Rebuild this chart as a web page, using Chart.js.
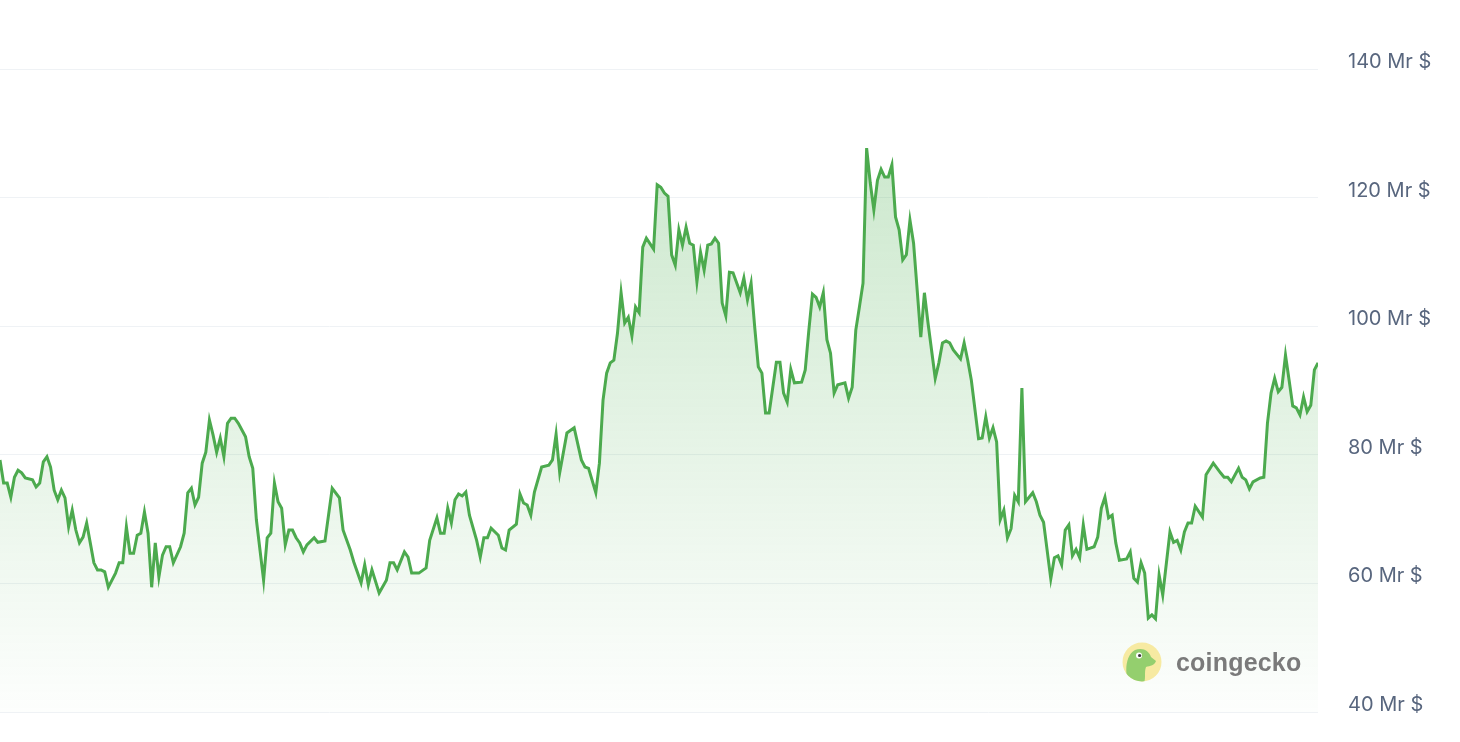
<!DOCTYPE html>
<html>
<head>
<meta charset="utf-8">
<script src="https://cdn.jsdelivr.net/npm/chart.js"></script>
<style>
  body { margin:0; background:#fff; }
  #wrap { position:relative; width:1460px; height:742px; }
  #mark { position:absolute; left:1122px; top:642px; display:flex; align-items:center; }
  #mark span { margin-left:14px; font-family:"Liberation Sans", Arial, sans-serif; font-weight:700; font-size:25px; color:#7a7a7a; letter-spacing:0.2px; }
</style>
</head>
<body>
<div id="wrap">
  <canvas id="volume_chart" width="1460" height="742"></canvas>
  <div id="mark">
    <svg width="40" height="40" viewBox="0 0 40 40">
      <defs><clipPath id="c"><circle cx="20" cy="20" r="19.5"/></clipPath></defs>
      <circle cx="20" cy="20" r="19.5" fill="#f7eaa2"/>
      <path clip-path="url(#c)" d="M5,36 C3,25 5,12 13,8 C21,5 27,9 29,15 L34,19 C33,23 28,24 24,25 C22,30 24,36 22,41 C15,42 8,40 5,36 Z" fill="#94cf6e"/>
      <circle cx="17" cy="13.5" r="3" fill="#fff"/>
      <circle cx="17.6" cy="13.5" r="1.6" fill="#3a3a3a"/>
    </svg>
    <span>coingecko</span>
  </div>
</div>
<script>
// volume chart, values in "Mr $"
let days = [0,1,2,3,4,5,6,7,9,10,11,12,13,14,15,16,17,18,19,20,21,22,23,24,25,26,27,28,29,30,
  32,33,34,35,36,37,38,39,40,41,42,43,44,45,46,47,48,50,51,52,53,54,55,56,57,58,59,60,61,62,
  63,64,65,66,68,69,70,71,72,73,74,75,76,77,78,79,80,81,82,83,84,85,87,88,90,92,94,95,97,98,
  100,101,102,103,105,107,108,109,110,112,113,114,116,118,119,121,122,123,124,125,126,127,128,129,130,
  132,133,134,135,136,138,139,140,141,143,144,145,146,147,148,150,152,153,154,155,157,159,161,162,163,
  165,166,167,168,169,170,171,172,173,174,175,176,177,178,179,181,182,183,184,185,186,187,188,189,190,
  191,192,193,194,195,196,197,198,199,200,201,202,203,205,206,207,208,209,210,211,212,213,215,216,217,
  218,219,220,222,223,224,225,226,227,228,229,230,231,232,234,235,236,237,238,239,240,241,242,243,244,
  245,246,247,248,249,250,251,252,253,255,256,257,259,260,261,262,263,264,266,267,268,269,271,272,273,
  274,275,276,277,278,279,280,281,282,283,284,286,287,288,289,291,292,293,294,295,296,297,298,299,300,
  301,303,304,305,306,307,308,309,310,312,313,314,315,316,317,318,319,320,321,322,324,325,326,327,328,
  329,330,331,333,334,336,338,339,340,341,343,344,345,346,347,349,350,351,352,353,354,355,356,357,358,
  359,360,361,362,363,364,365];

let volumes = [79.2,75.6,75.6,73.4,76.5,77.6,77.2,76.4,76.1,75.0,75.6,78.9,79.7,78.1,74.5,73.0,74.5,73.3,68.8,71.4,68.3,66.3,67.2,69.4,66.3,63.2,62.1,62.1,61.8,59.4,
  61.6,63.2,63.2,68.8,64.7,64.7,67.5,67.8,71.1,67.8,59.4,66.3,61.0,64.4,65.7,65.7,63.2,65.7,67.8,74.1,74.8,72.2,73.4,78.7,80.4,85.4,83.1,80.4,82.6,79.7,
  84.9,85.7,85.7,84.9,82.8,79.7,77.9,69.9,65.2,60.5,67.1,67.8,75.6,72.7,71.7,66.0,68.3,68.3,67.1,66.3,64.9,66.0,67.1,66.4,66.6,74.8,73.3,68.3,65.2,63.3,
  60.1,62.9,59.8,62.1,58.5,60.5,63.2,63.2,62.1,64.9,64.1,61.6,61.6,62.4,66.7,70.2,67.8,67.8,71.7,69.4,73.0,73.9,73.6,74.2,70.6,
  66.7,64.1,67.1,67.1,68.6,67.5,65.5,65.2,68.3,69.2,73.9,72.5,72.2,70.6,74.2,78.1,78.4,79.2,83.2,77.2,83.4,84.2,79.2,78.1,77.9,
  74.1,78.7,88.5,92.7,94.3,94.7,98.9,105.2,100.5,101.4,98.5,103.0,102.1,112.3,113.7,112.0,122.0,121.6,120.7,120.2,111.1,109.5,115.0,112.6,115.4,
  112.9,112.6,106.9,111.5,108.7,112.6,112.8,113.7,112.9,103.6,101.6,108.4,108.3,105.2,107.5,104.1,106.7,99.9,93.7,92.7,86.5,86.5,94.4,94.4,89.6,
  88.2,93.3,91.2,91.3,93.2,99.4,105.0,104.5,103.0,105.2,97.9,95.8,89.6,90.9,91.2,88.8,90.5,99.4,103.0,106.7,127.7,122.3,118.1,122.7,124.4,
  123.2,123.2,125.1,117.0,115.0,110.3,111.1,116.5,112.9,98.3,105.2,100.5,91.9,94.3,97.4,97.7,97.4,96.3,94.9,97.4,94.7,91.6,82.5,82.6,85.9,
  82.6,84.2,82.0,69.9,71.4,67.1,68.5,73.7,72.7,90.4,72.7,74.1,72.7,70.6,69.5,60.7,64.0,64.3,62.9,68.3,69.1,64.3,65.3,64.0,69.1,
  65.3,65.7,67.2,71.7,73.4,70.2,70.6,66.3,63.6,63.8,64.9,60.8,60.2,63.2,61.6,54.6,55.1,54.5,61.3,58.2,68.0,66.4,66.7,65.2,68.0,
  69.4,69.4,72.0,70.3,76.9,78.7,77.2,76.5,76.5,75.8,77.9,76.5,76.1,74.7,75.8,76.4,76.5,84.9,89.6,91.9,89.8,90.5,95.5,91.6,87.6,
  87.3,86.2,89.0,86.7,87.7,93.2,94.3];

let yTicks = [40, 60, 80, 100, 120, 140];

let ctx = document.getElementById("volume_chart");
let volumeChart = new Chart(ctx, {
    type: 'line',
    data: {
        datasets: [{
            label: "Volume",
            data: days.map((d, i) => ({ x: d, y: volumes[i] })),
            borderColor: "#4caa4e",
            borderWidth: 3,
            pointRadius: 0,
            tension: 0,
            fill: 'start',
            backgroundColor: function(c) {
                let area = c.chart.chartArea;
                if (!area) return "rgba(76,175,80,0.15)";
                let g = c.chart.ctx.createLinearGradient(0, area.top, 0, area.bottom);
                g.addColorStop(0, "rgba(76,175,80,0.32)");
                g.addColorStop(1, "rgba(76,175,80,0.01)");
                return g;
            }
        }]
    },
    options: {
        responsive: false,
        animation: false,
        layout: { padding: { top: 69, bottom: 30, left: 0, right: 0 } },
        plugins: { legend: { display: false }, tooltip: { enabled: false } },
        scales: {
            x: { type: 'linear', min: days[0], max: days[days.length - 1], display: false },
            y: {
                position: 'right',
                min: yTicks[0],
                max: yTicks[yTicks.length - 1],
                // fixed axis width, and let layout.padding alone decide top/bottom
                afterFit: s => { s.width = 142; s.paddingTop = 0; s.paddingBottom = 0; },
                border: { display: false },
                grid: { color: "#eff2f5", drawTicks: false, lineWidth: 1 },
                ticks: {
                    stepSize: 20,
                    padding: 30,
                    labelOffset: -7,
                    color: "#58667e",
                    font: { family: "Inter", size: 20 },
                    callback: v => v + " Mr $"
                }
            }
        }
    }
});
</script>
</body>
</html>
